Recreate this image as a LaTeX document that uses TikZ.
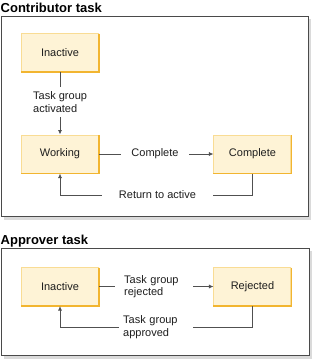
\documentclass[tikz,border=0pt]{standalone}
\usepackage{fontspec}
\setmainfont{Liberation Sans}
\usetikzlibrary{arrows.meta}
\definecolor{boxfill}{HTML}{FEF3D6}
\definecolor{boxline}{HTML}{F9DC94}
\definecolor{boxdark}{HTML}{F2B530}
\definecolor{conn}{HTML}{505050}
\definecolor{frame}{HTML}{4A4A4A}
\definecolor{shadow}{HTML}{DADADA}
\definecolor{txt}{HTML}{1E1E1E}
\begin{document}
\begin{tikzpicture}[x=1pt,y=-1pt,
  state/.style={rectangle, fill=boxfill, draw=boxline, line width=1pt,
    minimum width=77pt, minimum height=38pt, inner sep=0pt,
    font=\fontsize{11}{13}\selectfont, text=txt},
  lbl/.style={fill=white, font=\fontsize{11}{12.5}\selectfont, text=txt, inner ysep=2pt},
  conn/.style={draw=conn, line width=0.8pt},
  arr/.style={conn, -{Latex[length=4.5pt,width=4pt]}},
  title/.style={font=\fontsize{13}{15}\selectfont\bfseries, text=black, inner sep=0pt, anchor=base west}
]
\useasboundingbox (0,0) rectangle (313,360);
\fill[white] (0,0) rectangle (313,360);

% frames
\fill[shadow] (4,19) rectangle (311.5,219.5);
\filldraw[fill=white, draw=frame, line width=0.8pt] (1,16) rectangle (308.5,216);
\fill[shadow] (4,251) rectangle (312,358.5);
\filldraw[fill=white, draw=frame, line width=0.8pt] (1,248) rectangle (309,355);

\node[title] (t1) at (0.5,12) {Contributor task};
\node[title] (t2) at (0.5,244) {Approver task};

% states
\node[state] (cin)   at (60,52.5)  {Inactive};
\node[state] (cwork) at (60,154)   {Working};
\node[state] (ccomp) at (252.5,154) {Complete};
\node[state] (ain)   at (60,286.5) {Inactive};
\node[state] (arej)  at (252.5,286.5) {Rejected};
\foreach \n in {cin,cwork,ccomp,ain,arej}{
  \draw[boxdark, line width=1.8pt] ([yshift=-0.5pt]\n.north east) -- (\n.south east) -- (\n.south west);
}

% contributor connectors
\coordinate (r1) at (252.5,195);
\coordinate (r2) at (60,195);
\draw[arr] (cin.south) -- (cwork.north);
\node[lbl, anchor=west, align=left, inner xsep=2pt, inner ysep=5pt] (lact) at (31,102) {Task group\\activated};
\draw[arr] (cwork.east) -- (ccomp.west);
\node[lbl, inner xsep=10pt] (lcomp) at (155,154) {Complete};
\draw[arr] (ccomp.south) -- (r1) -- (r2) -- (cwork.south);
\node[lbl, inner xsep=16.5pt] (lret) at (157.5,195) {Return to active};

% approver connectors
\coordinate (s1) at (252.5,327);
\coordinate (s2) at (60,327);
\draw[arr] (ain.east) -- (arej.west);
\node[lbl, anchor=west, align=left, text width=60pt, inner xsep=9pt] (lrej) at (115,286.5) {Task group\\rejected};
\draw[arr] (arej.south) -- (s1) -- (s2) -- (ain.south);
\node[lbl, anchor=west, align=left, text width=66pt, inner xsep=4pt] (lapp) at (119,327) {Task group\\approved};
\end{tikzpicture}
\end{document}
